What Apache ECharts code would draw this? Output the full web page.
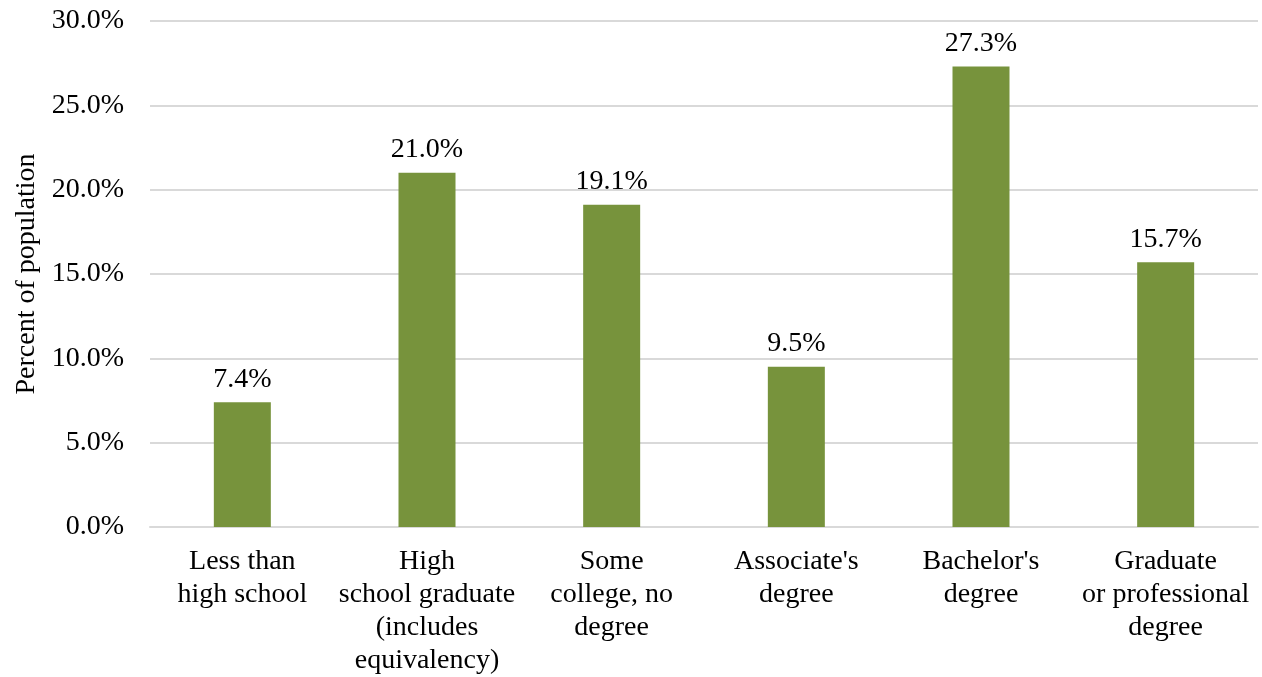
<!DOCTYPE html>
<html>
<head>
<meta charset="utf-8">
<script src="https://cdn.jsdelivr.net/npm/echarts@6/dist/echarts.min.js"></script>
<style>
  html, body { margin: 0; padding: 0; background: #fff; }
  #main { width: 1262px; height: 677px; }
</style>
</head>
<body>
<div id="main"></div>
<script>
// education levels (percent of population)
var categories = [
  'Less than\nhigh school',
  'High\nschool graduate\n(includes\nequivalency)',
  'Some\ncollege, no\ndegree',
  "Associate's\ndegree",
  "Bachelor's\ndegree",
  'Graduate\nor professional\ndegree'
];
var values = [7.4, 21.0, 19.1, 9.5, 27.3, 15.7];
var yTicks = [0, 5, 10, 15, 20, 25, 30];

var font = '"Liberation Serif", "Times New Roman", serif';
var chart = echarts.init(document.getElementById('main'));

var option = {
  backgroundColor: '#ffffff',
  textStyle: { fontFamily: font },
  grid: { left: 150, right: 4, top: 21, bottom: 150, containLabel: false, outerBoundsMode: 'none' },
  xAxis: {
    type: 'category',
    data: categories,
    axisLine: { show: true, lineStyle: { color: '#d9d9d9', width: 2 } },
    axisTick: { show: false },
    axisLabel: {
      color: '#000',
      fontSize: 28,
      fontFamily: font,
      lineHeight: 33,
      margin: 18,
      interval: 0,
      align: 'center'
    }
  },
  yAxis: {
    type: 'value',
    min: yTicks[0],
    max: yTicks[yTicks.length - 1],
    interval: 5,
    name: 'Percent of population',
    nameLocation: 'middle',
    nameGap: 109,
    nameTextStyle: { color: '#000', fontSize: 28, fontFamily: font },
    axisLine: { show: false },
    axisTick: { show: false },
    splitLine: { lineStyle: { color: '#d9d9d9', width: 2 } },
    axisLabel: {
      color: '#000',
      fontSize: 28,
      fontFamily: font,
      margin: 26,
      formatter: function (v) { return v.toFixed(1) + '%'; }
    }
  },
  series: [{
    type: 'bar',
    data: values,
    barWidth: 57,
    itemStyle: { color: '#77933c' },
    label: {
      show: true,
      position: 'top',
      distance: 9,
      color: '#000',
      fontSize: 28,
      fontFamily: font,
      formatter: function (p) { return p.value.toFixed(1) + '%'; }
    }
  }]
};

chart.setOption(option);
</script>
</body>
</html>
